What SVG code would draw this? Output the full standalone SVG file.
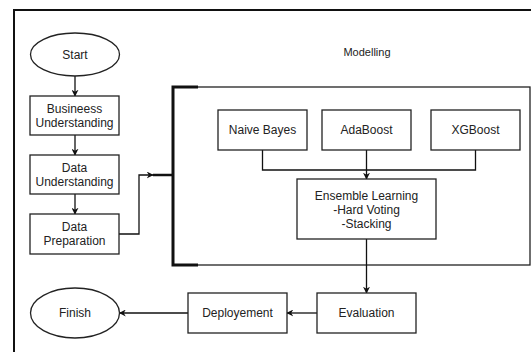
<svg xmlns="http://www.w3.org/2000/svg" width="531" height="352" viewBox="0 0 531 352">
<defs>
<style>
.box{fill:#fff;stroke:#222;stroke-width:1.3}
.t{font-family:"Liberation Sans",Arial,sans-serif;font-size:12px;fill:#222;text-anchor:middle}
.ln{fill:none;stroke:#111;stroke-width:1.3}
</style>
<marker id="ah" viewBox="0 0 10 10" refX="9" refY="5" markerWidth="7" markerHeight="7" orient="auto" markerUnits="userSpaceOnUse"><path d="M0,0 L10,5 L0,10 L3,5 Z" fill="#111"/></marker>
</defs>
<rect width="531" height="352" fill="#fff"/>
<path d="M14,352 L14,10 L531,10" fill="none" stroke="#111" stroke-width="2"/>
<g id="modelling">
<rect x="173" y="87" width="357" height="178" fill="none" stroke="#222" stroke-width="1.3"/>
<path d="M198,87 L173,87 L173,265 L198,265" fill="none" stroke="#111" stroke-width="3"/>
<text class="t" x="367" y="56" style="font-size:11px">Modelling</text>
</g>
<g id="connectors">
<line class="ln" x1="75" y1="76" x2="75" y2="96" marker-end="url(#ah)"/>
<line class="ln" x1="75" y1="135" x2="75" y2="155" marker-end="url(#ah)"/>
<line class="ln" x1="75" y1="194" x2="75" y2="214" marker-end="url(#ah)"/>
<polyline class="ln" points="119,234 139,234 139,175 153,175" marker-end="url(#ah)"/>
<line x1="153" y1="175" x2="173" y2="175" stroke="#111" stroke-width="2.5"/>
<polyline class="ln" points="262.5,150 262.5,170 475.5,170 475.5,150"/>
<line class="ln" x1="366.5" y1="150" x2="366.5" y2="179" marker-end="url(#ah)"/>
<line class="ln" x1="366.5" y1="239" x2="366.5" y2="293" marker-end="url(#ah)"/>
<line class="ln" x1="317" y1="313" x2="287" y2="313" marker-end="url(#ah)"/>
<line class="ln" x1="188" y1="313" x2="119.5" y2="313" marker-end="url(#ah)"/>
</g>
<g id="start"><ellipse class="box" cx="75" cy="54.5" rx="44.5" ry="21.5"/><text class="t" x="75" y="59">Start</text></g>
<g id="business"><rect class="box" x="30" y="96" width="89" height="39"/><text class="t" x="74.5" y="113">Busineess</text><text class="t" x="74.5" y="127">Understanding</text></g>
<g id="dataund"><rect class="box" x="30" y="155" width="89" height="39"/><text class="t" x="74.5" y="172">Data</text><text class="t" x="74.5" y="186">Understanding</text></g>
<g id="dataprep"><rect class="box" x="30" y="214" width="89" height="40"/><text class="t" x="74.5" y="231">Data</text><text class="t" x="74.5" y="245">Preparation</text></g>
<g id="nb"><rect class="box" x="218" y="110" width="89" height="40"/><text class="t" x="262.5" y="134">Naive Bayes</text></g>
<g id="ada"><rect class="box" x="322" y="110" width="89" height="40"/><text class="t" x="366.5" y="134">AdaBoost</text></g>
<g id="xgb"><rect class="box" x="431" y="110" width="89" height="40"/><text class="t" x="475.5" y="134">XGBoost</text></g>
<g id="ensemble"><rect class="box" x="297" y="179" width="139" height="60"/><text class="t" x="366.5" y="200">Ensemble Learning</text><text class="t" x="366.5" y="214">-Hard Voting</text><text class="t" x="366.5" y="228">-Stacking</text></g>
<g id="evaluation"><rect class="box" x="317" y="293" width="99" height="40"/><text class="t" x="366.5" y="317">Evaluation</text></g>
<g id="deployment"><rect class="box" x="188" y="293" width="99" height="40"/><text class="t" x="237.5" y="317">Deployement</text></g>
<g id="finish"><ellipse class="box" cx="75" cy="313" rx="44.5" ry="25"/><text class="t" x="75" y="317">Finish</text></g>
</svg>
